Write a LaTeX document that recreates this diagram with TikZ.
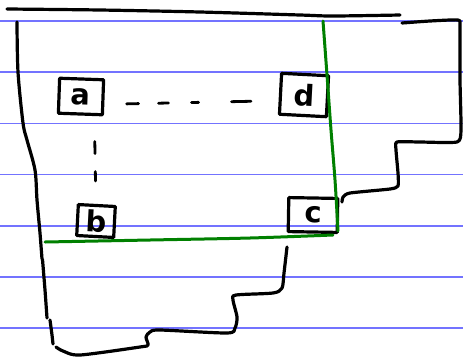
\documentclass[tikz,border=0pt]{standalone}
\usepackage{fontspec}
\setmainfont{DejaVu Sans}
\begin{document}
\begin{tikzpicture}[x=1pt,y=-1pt,
  ink/.style={line width=3.2pt, line cap=round, line join=round, black},
  greenink/.style={line width=3pt, line cap=round, color=green!50!black},
  ruled/.style={line width=1.2pt, color={rgb,255:red,115;green,115;blue,255}},
  letterbox/.style={draw, line width=3.2pt, line join=round, inner sep=0pt, font=\fontsize{29}{29}\selectfont\bfseries},
  dashlink/.style={line width=2.8pt, line cap=round},
]
\useasboundingbox (0,0) rectangle (463,357);
\fill[white] (0,0) rectangle (463,357);
\foreach \y in {21,72,123.3,174.5,226,277,328} \draw[ruled] (0,\y) -- (463,\y);

% boxes with letters
\node[letterbox, minimum width=44pt, minimum height=35pt, rotate=-2] (a) at (81,96.5) {a};
\node[letterbox, minimum width=47pt, minimum height=41pt, rotate=-3] (d) at (304,95) {d};
\node[letterbox, minimum width=37pt, minimum height=31pt, rotate=-3] (b) at (96,221) {b};
\node[letterbox, minimum width=49pt, minimum height=34pt, rotate=-1] (c) at (313,215) {c};

% dashed connectors
\draw[dashlink, dash pattern=on 12pt off 20pt on 10pt off 23pt on 7pt off 33pt on 22pt off 100pt,
      shorten <=22pt, shorten >=28pt] ([yshift=-7pt]a.east) -- ([yshift=-7pt]d.west);
\draw[dashlink, dash pattern=on 12pt off 18pt on 12pt off 100pt,
      shorten <=26pt, shorten >=23pt] ([xshift=14pt]a.south) -- ([xshift=-1pt]b.north);

% outline
\draw[ink] plot[smooth] coordinates {(7,9) (100,10) (200,12) (300,15) (333,16) (400,15)};
\draw[ink] plot[smooth, tension=0.5] coordinates {(17,22) (18,72) (23,123) (27,140) (35,170) (37,200) (40,233) (42,259)};
\draw[ink] plot[smooth, tension=0.5] coordinates {(42.5,259.5) (45,290) (47,318)};
\draw[ink] plot[smooth, tension=0.5] coordinates {(50,320) (52,335) (53,344)};
\draw[ink] plot[smooth, tension=0.45] coordinates {(56,347) (63,351) (80,355) (140,347) (148,345) (146,337) (150,332) (160,330) (227,333) (235,328) (237,317) (233,300) (236,295) (273,293) (282,288) (284,273) (287,247)};
\draw[ink] plot[smooth, tension=0.35] coordinates {(402,23) (430,21) (458,20) (460,26) (460,80) (461,130) (457,142) (420,142) (397,142) (396,150) (398,173) (398,186) (390,189) (350,193) (343,197) (342,202)};

% green lines
\draw[greenink] plot[smooth] coordinates {(323,21) (327,75) (331,130) (335,180) (338,231)};
\draw[greenink] plot[smooth] coordinates {(45,242) (150,240) (250,238) (333,235)};
\end{tikzpicture}
\end{document}
